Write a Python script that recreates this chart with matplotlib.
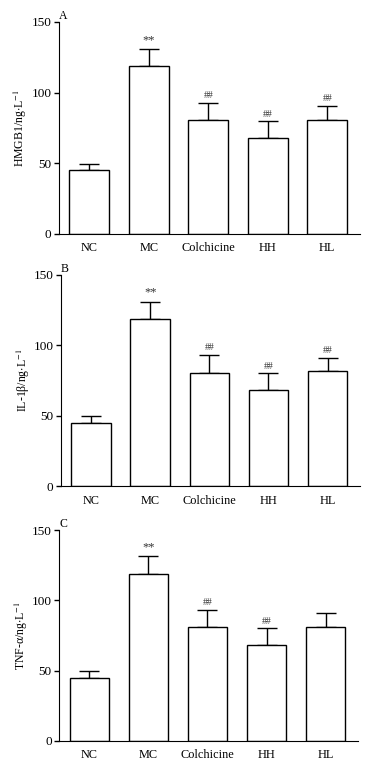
import numpy as np
import matplotlib
matplotlib.use('Agg')
import matplotlib.pyplot as plt

plt.rcParams['font.family'] = ['Liberation Serif', 'DejaVu Serif']
plt.rcParams['mathtext.fontset'] = 'stix'

groups = ['NC', 'MC', 'Colchicine', 'HH', 'HL']

hmgb1_mean = [45, 118.7, 80.4, 67.7, 80.4]
hmgb1_err = [4.3, 12.3, 12.1, 12.0, 10.4]
hmgb1_marks = ['', '**', '##', '##', '##']

il1b_mean = [45, 118.5, 80.5, 68, 81.5]
il1b_err = [5, 12.5, 12.5, 12, 9.5]
il1b_marks = ['', '**', '##', '##', '##']

tnfa_mean = [45, 119, 81, 68, 81]
tnfa_err = [5, 12.5, 12, 12, 10]
tnfa_marks = ['', '**', '##', '##', '']

panels = [
    ('A', r'HMGB1/ng$\cdot$L$^{-1}$', hmgb1_mean, hmgb1_err, hmgb1_marks,
     [59/368, (766-234)/766, 301/368, 212/766]),
    ('B', r'IL-1β/ng$\cdot$L$^{-1}$', il1b_mean, il1b_err, il1b_marks,
     [61/368, (766-486.3)/766, 299/368, 211.6/766]),
    ('C', r'TNF-α/ng$\cdot$L$^{-1}$', tnfa_mean, tnfa_err, tnfa_marks,
     [59.3/368, (766-740.7)/766, 298.7/368, 210.4/766]),
]

fig = plt.figure(figsize=(3.68, 7.66), dpi=100)
x = np.arange(len(groups))

for letter, ylab, mean, err, marks, rect in panels:
    ax = fig.add_axes(rect)
    ax.bar(x, mean, width=0.67, color='white', edgecolor='black', linewidth=1.0, zorder=2)
    ax.errorbar(x, mean, yerr=[np.zeros(len(err)), err], fmt='none', ecolor='black',
                elinewidth=1.0, capsize=7, capthick=1.0, zorder=1)
    for xi, m, e, s in zip(x, mean, err, marks):
        if s:
            fs = 9 if s == '**' else 7
            ax.text(xi, m + e + 2, s, ha='center', va='bottom', fontsize=fs, color='#333333')
    ax.set_xlim(-0.51, 4.55)
    ax.set_ylim(0, 150)
    ax.set_yticks([0, 50, 100, 150])
    ax.set_xticks(x)
    ax.set_xticklabels(groups)
    ax.tick_params(axis='x', length=0, pad=6, labelsize=8.8)
    ax.tick_params(axis='y', length=3.5, width=1, direction='out', pad=2, labelsize=9.5)
    ax.spines['top'].set_visible(False)
    ax.spines['right'].set_visible(False)
    ax.set_ylabel(ylab, fontsize=8.5, va='center')
    ax.yaxis.set_label_coords(-0.127, 0.5)
    ax.text(0.0, 1.0, letter, transform=ax.transAxes, ha='left', va='bottom', fontsize=8.5)

fig.savefig('out.png', dpi=100)
